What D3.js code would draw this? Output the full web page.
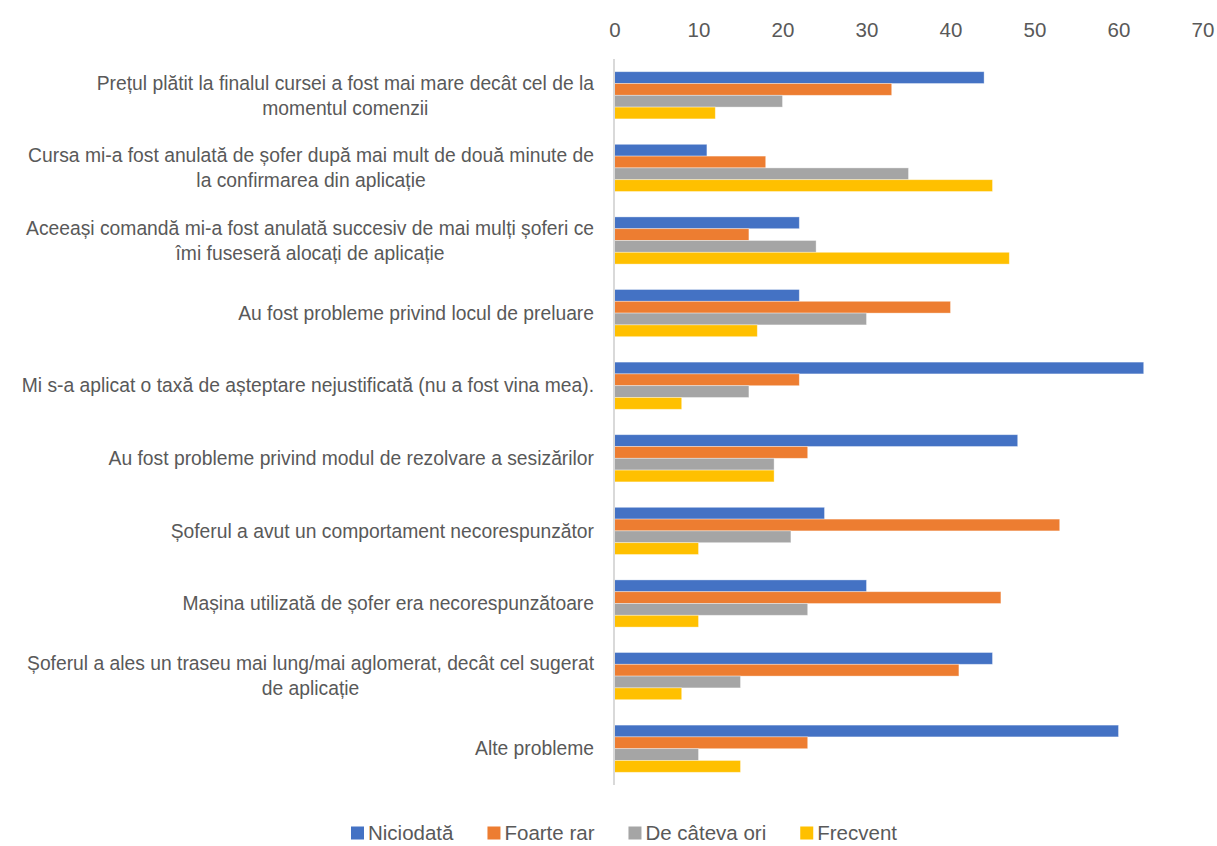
<!DOCTYPE html>
<html>
<head>
<meta charset="utf-8">
<script src="https://cdn.jsdelivr.net/npm/d3@7"></script>
<style>
  html, body { margin: 0; padding: 0; background: #fff; }
  svg { display: block; font-family: "Liberation Sans", Arial, sans-serif; }
</style>
</head>
<body>
<svg id="chart" width="1217" height="846"></svg>
<script>
// Problems reported with ride-hailing trips (wrapped labels use "\n")
const categories = [
  "Prețul plătit la finalul cursei a fost mai mare decât cel de la\nmomentul comenzii",
  "Cursa mi-a fost anulată de șofer după mai mult de două minute de\nla confirmarea din aplicație",
  "Aceeași comandă mi-a fost anulată succesiv de mai mulți șoferi ce\nîmi fuseseră alocați de aplicație",
  "Au fost probleme privind locul de preluare",
  "Mi s-a aplicat o taxă de așteptare nejustificată (nu a fost vina mea).",
  "Au fost probleme privind modul de rezolvare a sesizărilor",
  "Șoferul a avut un comportament necorespunzător",
  "Mașina utilizată de șofer era necorespunzătoare",
  "Șoferul a ales un traseu mai lung/mai aglomerat, decât cel sugerat\nde aplicație",
  "Alte probleme"
];

const seriesNames = ["Niciodată", "Foarte rar", "De câteva ori", "Frecvent"];
const niciodata   = [44, 11, 22, 22, 63, 48, 25, 30, 45, 60];
const foarteRar   = [33, 18, 16, 40, 22, 23, 53, 46, 41, 23];
const deCatevaOri = [20, 35, 24, 30, 16, 19, 21, 23, 15, 10];
const frecvent    = [12, 45, 47, 17,  8, 19, 10, 10,  8, 15];
const tickValues  = [0, 10, 20, 30, 40, 50, 60, 70];

const seriesValues = [niciodata, foarteRar, deCatevaOri, frecvent];
const colors = ["#4472C4", "#ED7D31", "#A5A5A5", "#FFC000"];

const svg = d3.select("#chart");
const plot = { left: 614.5, right: 1202.5, top: 59, bottom: 785 };

const x = d3.scaleLinear().domain([0, 70]).range([plot.left, plot.right]);
const y = d3.scaleBand()
  .domain(d3.range(categories.length))
  .range([plot.top, plot.bottom])
  .paddingInner(0.35)
  .paddingOuter(0.175);
const ySub = d3.scaleBand()
  .domain(d3.range(seriesNames.length))
  .range([0, y.bandwidth()]);

// Top value axis, labels only
const xAxis = svg.append("g")
  .attr("transform", `translate(0,${plot.top - 22})`)
  .call(d3.axisTop(x).tickValues(tickValues).tickSize(0).tickPadding(0));
xAxis.select(".domain").remove();
xAxis.selectAll("text")
  .attr("font-family", "Liberation Sans, Arial, sans-serif")
  .attr("font-size", 20.5)
  .attr("fill", "#595959");

// Bars
const groups = svg.append("g").selectAll("g")
  .data(categories)
  .join("g")
  .attr("transform", (d, i) => `translate(0,${y(i)})`);

groups.selectAll("rect")
  .data((d, i) => seriesValues.map((vals, s) => ({ s, v: vals[i] })))
  .join("rect")
  .attr("x", x(0))
  .attr("y", d => ySub(d.s))
  .attr("width", d => x(d.v) - x(0))
  .attr("height", ySub.bandwidth())
  .attr("fill", d => colors[d.s])
  .attr("stroke", "#fff")
  .attr("stroke-opacity", 0.45)
  .attr("stroke-width", 0.8);

// Category axis line
svg.append("line")
  .attr("x1", plot.left - 0.5).attr("x2", plot.left - 0.5)
  .attr("y1", plot.top).attr("y2", plot.bottom)
  .attr("stroke", "#d9d9d9")
  .attr("stroke-width", 2);

// Category labels: lines centred on each other, block right-aligned
const labelRight = 594;
const lineH = 25;
const labels = svg.append("g")
  .attr("font-size", 19.3)
  .attr("fill", "#595959");

categories.forEach((c, i) => {
  const lines = c.split("\n");
  const cy = y(i) + y.bandwidth() / 2;
  const t = labels.append("text").attr("text-anchor", "middle");
  const spans = lines.map((ln, k) =>
    t.append("tspan")
      .attr("y", cy + (k - (lines.length - 1) / 2) * lineH)
      .attr("dy", "0.35em")
      .text(ln));
  const w = d3.max(spans, s => s.node().getComputedTextLength());
  spans.forEach(s => s.attr("x", labelRight - w / 2));
});

// Legend
const legend = svg.append("g").attr("font-size", 20.5).attr("fill", "#595959");
const sw = 13, gapText = 4, gapItem = 34;
let lx = 0;
seriesNames.forEach((name, s) => {
  const g = legend.append("g");
  g.append("rect")
    .attr("x", 0).attr("y", -sw / 2)
    .attr("width", sw).attr("height", sw)
    .attr("fill", colors[s]);
  const t = g.append("text")
    .attr("x", sw + gapText)
    .attr("dy", "0.35em")
    .text(name);
  const w = sw + gapText + t.node().getComputedTextLength();
  g.attr("transform", `translate(${lx},0)`);
  lx += w + gapItem;
});
const totalW = lx - gapItem;
legend.attr("transform", `translate(${624 - totalW / 2},833)`);
</script>
</body>
</html>
